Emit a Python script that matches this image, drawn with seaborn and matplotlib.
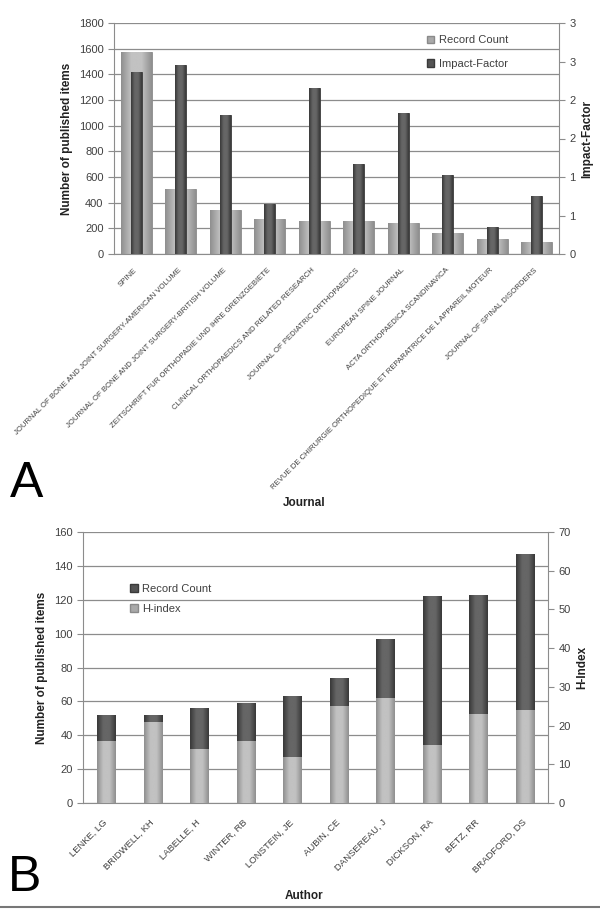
import numpy as np
import pandas as pd
import seaborn as sns
import matplotlib.pyplot as plt
from matplotlib.patches import Patch
from matplotlib.ticker import FuncFormatter, MultipleLocator
from matplotlib.lines import Line2D
from matplotlib.colors import LinearSegmentedColormap

# Datos panel A
journals = [
    "SPINE",
    "JOURNAL OF BONE AND JOINT SURGERY-AMERICAN VOLUME",
    "JOURNAL OF BONE AND JOINT SURGERY-BRITISH VOLUME",
    "ZEITSCHRIFT FUR ORTHOPADIE UND IHRE GRENZGEBIETE",
    "CLINICAL ORTHOPAEDICS AND RELATED RESEARCH",
    "JOURNAL OF PEDIATRIC ORTHOPAEDICS",
    "EUROPEAN SPINE JOURNAL",
    "ACTA ORTHOPAEDICA SCANDINAVICA",
    "REVUE DE CHIRURGIE ORTHOPEDIQUE ET REPARATRICE DE L APPAREIL MOTEUR",
    "JOURNAL OF SPINAL DISORDERS",
]
record_count_j = [1575, 510, 339, 274, 261, 261, 241, 163, 117, 93]
impact_factor = [2.37, 2.46, 1.80, 0.65, 2.16, 1.17, 1.83, 1.03, 0.35, 0.75]

# Datos panel B
authors = ["LENKE, LG", "BRIDWELL, KH", "LABELLE, H", "WINTER, RB", "LONSTEIN, JE",
           "AUBIN, CE", "DANSEREAU, J", "DICKSON, RA", "BETZ, RR", "BRADFORD, DS"]
record_count_a = [52, 52, 56, 59, 63, 74, 97, 122, 123, 147]
h_index = [16, 21, 14, 16, 12, 25, 27, 15, 23, 24]

LIGHT = "#a9a9a9"
DARK = "#545454"
GRID = "#8c8c8c"
TXT = "#404040"

sns.set_style("white")
plt.rcParams["font.family"] = ["Liberation Sans", "DejaVu Sans"]

df_j = pd.DataFrame({"Journal": journals, "Records": record_count_j, "IF": impact_factor})
df_a = pd.DataFrame({"Author": authors, "Records": record_count_a, "H": h_index})

fig = plt.figure(figsize=(6, 9.11), dpi=100)
W, H = 600, 911


def box(x0, y0, x1, y1):
    return [x0 / W, 1 - y1 / H, (x1 - x0) / W, (y1 - y0) / H]


def shade(ax, c_edge, c_mid):
    # degradado tipo cilindro sobre cada barra
    cmap = LinearSegmentedColormap.from_list("g", [c_edge, c_mid, c_mid, c_edge])
    grad = np.linspace(0, 1, 64).reshape(1, -1)
    xl, yl = ax.get_xlim(), ax.get_ylim()
    for p in list(ax.patches):
        x, y, w, h = p.get_x(), p.get_y(), p.get_width(), p.get_height()
        im = ax.imshow(grad, extent=[x, x + w, y, y + h], cmap=cmap, aspect="auto",
                       zorder=p.get_zorder() + 0.1, interpolation="bicubic")
        im.set_clip_path(p)
    ax.set_xlim(xl)
    ax.set_ylim(yl)


def style_axes(ax, ax2):
    for a in (ax, ax2):
        a.spines["top"].set_visible(False)
        for s in ("left", "right", "bottom"):
            a.spines[s].set_color(GRID)
        a.tick_params(axis="y", colors=TXT, labelsize=8, length=4, width=0.8, color=GRID)
    ax.spines["right"].set_visible(False)
    ax2.spines["left"].set_visible(False)
    ax2.spines["bottom"].set_visible(False)
    # ticks entre categorias
    ax.set_xticks(np.arange(-0.5, 10.5, 1), minor=True)
    ax.tick_params(axis="x", which="minor", length=4, color=GRID, width=0.8)
    ax.tick_params(axis="x", which="major", length=0)
    ax.set_xlim(-0.5, 9.5)


# ---------- Panel A ----------
ax = fig.add_axes(box(114, 23, 559, 254))
ax.yaxis.grid(True, color=GRID, lw=0.9)
ax.set_axisbelow(True)
sns.barplot(data=df_j, x="Journal", y="Records", color=LIGHT, width=0.69,
            saturation=1, edgecolor="#8a8a8a", linewidth=0.6, ax=ax)
ax.set_xlim(-0.5, 9.5)
ax.set_ylim(0, 1800)
ax.yaxis.set_major_locator(MultipleLocator(200))
shade(ax, "#8f8f8f", "#c2c2c2")
ax2 = ax.twinx()
sns.barplot(data=df_j, x="Journal", y="IF", color=DARK, width=0.24,
            saturation=1, edgecolor="#3a3a3a", linewidth=0.6, ax=ax2)
ax2.set_xlim(-0.5, 9.5)
ax2.set_ylim(0, 3)
shade(ax2, "#383838", "#666666")
ax2.yaxis.set_major_locator(MultipleLocator(0.5))
ax2.yaxis.set_major_formatter(FuncFormatter(lambda v, p: str(int(np.floor(v + 0.5)))))
style_axes(ax, ax2)
ax.set_xticks(range(10))
ax.set_xticklabels(journals, rotation=45, ha="right", va="center", rotation_mode="anchor",
                   fontsize=5.6, color=TXT)
ax.tick_params(axis="x", which="major", pad=11)
ax.set_xlabel("Journal", fontsize=8.5, fontweight="bold", color="#222222")
ax.xaxis.set_label_coords((304 - 114) / 445, (254 - 497) / 231)
ax.set_ylabel("Number of published items", fontsize=8.5, fontweight="bold", color="#222222")
ax2.set_ylabel("Impact-Factor", fontsize=8.5, fontweight="bold", color="#222222")
ax2.set_xlabel("")
handles = [Patch(facecolor=LIGHT, edgecolor="#8a8a8a", label="Record Count"),
           Patch(facecolor=DARK, edgecolor="#3a3a3a", label="Impact-Factor")]
ax2.legend(handles=handles, loc="upper left", bbox_to_anchor=(0.68, 0.99), frameon=False,
           fontsize=8, handlelength=0.7, handleheight=0.7, handletextpad=0.4,
           labelspacing=1.2, labelcolor=TXT)

# ---------- Panel B ----------
bx = fig.add_axes(box(83, 532, 548, 803))
bx.yaxis.grid(True, color=GRID, lw=0.9)
bx.set_axisbelow(True)
sns.barplot(data=df_a, x="Author", y="Records", color=DARK, width=0.39,
            saturation=1, edgecolor="#3a3a3a", linewidth=0.6, ax=bx)
bx.set_xlim(-0.5, 9.5)
bx.set_ylim(0, 160)
bx.yaxis.set_major_locator(MultipleLocator(20))
shade(bx, "#383838", "#666666")
bx2 = bx.twinx()
sns.barplot(data=df_a, x="Author", y="H", color=LIGHT, width=0.39,
            saturation=1, edgecolor="#8a8a8a", linewidth=0.6, ax=bx2)
bx2.set_xlim(-0.5, 9.5)
bx2.set_ylim(0, 70)
shade(bx2, "#8f8f8f", "#c2c2c2")
bx2.yaxis.set_major_locator(MultipleLocator(10))
style_axes(bx, bx2)
bx.set_xticks(range(10))
bx.set_xticklabels(authors, rotation=45, ha="right", va="center", rotation_mode="anchor",
                   fontsize=6.8, color=TXT)
bx.tick_params(axis="x", which="major", pad=13)
bx.set_xlabel("Author", fontsize=8.5, fontweight="bold", color="#222222")
bx.xaxis.set_label_coords((304 - 83) / 465, (803 - 890) / 271)
bx.set_ylabel("Number of published items", fontsize=8.5, fontweight="bold", color="#222222")
bx2.set_ylabel("H-Index", fontsize=8.5, fontweight="bold", color="#222222")
bx2.set_xlabel("")
handles = [Patch(facecolor=DARK, edgecolor="#3a3a3a", label="Record Count"),
           Patch(facecolor=LIGHT, edgecolor="#8a8a8a", label="H-index")]
bx2.legend(handles=handles, loc="upper left", bbox_to_anchor=(0.08, 0.845), frameon=False,
           fontsize=8, handlelength=0.7, handleheight=0.7, handletextpad=0.4,
           labelspacing=0.9, labelcolor=TXT)

# Letras de panel y marco
fig.text(10 / W, 1 - 497 / H, "A", fontsize=36, color="black", ha="left", va="baseline")
fig.text(8 / W, 1 - 891 / H, "B", fontsize=36, color="black", ha="left", va="baseline")
fig.add_artist(Line2D([0, 1], [1 - 907 / H, 1 - 907 / H], color="#777777", lw=1.5))

plt.savefig("out.png", dpi=100)
plt.close()
